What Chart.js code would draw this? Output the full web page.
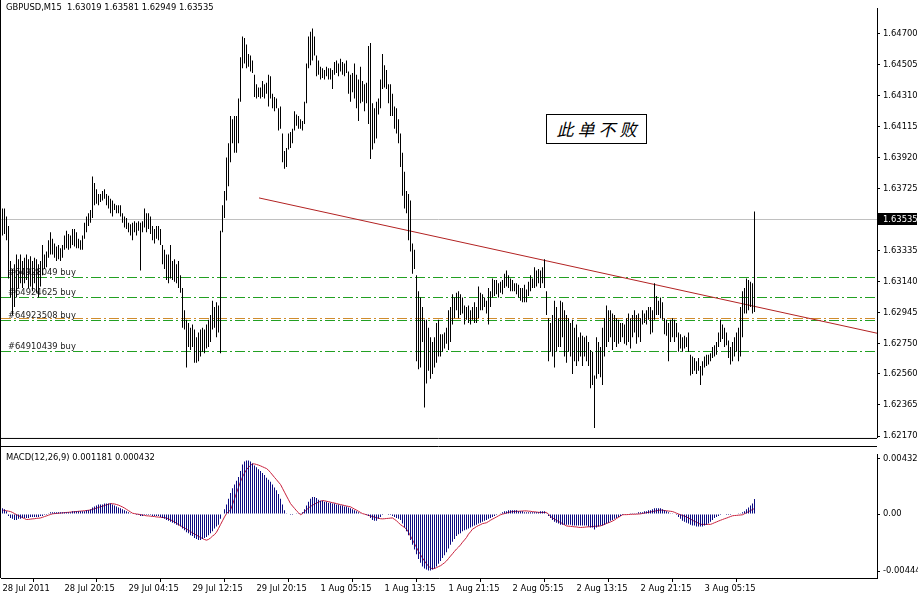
<!DOCTYPE html>
<html>
<head>
<meta charset="utf-8">
<style>
  html, body { margin: 0; padding: 0; background: #fff; width: 918px; height: 598px; overflow: hidden; }
  body { position: relative; }
  canvas { position: absolute; left: 0; }
  #price { top: 0; }
  #macd { top: 446px; }
  .note {
    position: absolute; left: 546px; top: 114px; width: 101px; height: 30px;
    border: 1px solid #000; background: #fff; box-sizing: border-box;
    font: italic 400 17px "Noto Sans CJK SC"; letter-spacing: 4px; padding-left: 4px;
    text-align: center; line-height: 28px; color: #000;
  }
</style>
</head>
<body>
<canvas id="price" width="918" height="446"></canvas>
<canvas id="macd" width="918" height="152"></canvas>
<div class="note">此单不败</div>
<script src="https://cdn.jsdelivr.net/npm/chart.js@4.4.1/dist/chart.umd.min.js"></script>
<script>
// GBPUSD M15, one value per bar (377 bars)
const highs = [
  1.6360,1.6360,1.6355,1.6349,1.6327,1.6322,1.6325,1.6331,1.6328,1.6331,
  1.6327,1.6329,1.6331,1.6328,1.6330,1.6327,1.6329,1.6328,1.6325,1.6327,
  1.6337,1.6331,1.6333,1.6340,1.6345,1.6341,1.6338,1.6336,1.6337,1.6335,
  1.6337,1.6343,1.6346,1.6344,1.6343,1.6347,1.6347,1.6345,1.6341,1.6340,
  1.6343,1.6351,1.6355,1.6357,1.6359,1.6380,1.6376,1.6372,1.6369,1.6369,
  1.6371,1.6372,1.6369,1.6368,1.6366,1.6365,1.6363,1.6362,1.6362,1.6362,
  1.6357,1.6355,1.6354,1.6351,1.6350,1.6351,1.6352,1.6351,1.6352,1.6351,
  1.6352,1.6360,1.6357,1.6357,1.6355,1.6349,1.6347,1.6349,1.6349,1.6347,
  1.6337,1.6334,1.6331,1.6331,1.6337,1.6327,1.6328,1.6325,1.6327,1.6318,
  1.6310,1.6296,1.6290,1.6288,1.6285,1.6287,1.6284,1.6279,1.6282,1.6284,
  1.6285,1.6284,1.6287,1.6290,1.6293,1.6302,1.6298,1.6301,1.6299,1.6346,
  1.6362,1.6371,1.6392,1.6401,1.6418,1.6416,1.6418,1.6418,1.6429,1.6455,
  1.6468,1.6467,1.6463,1.6457,1.6456,1.6453,1.6444,1.6438,1.6436,1.6436,
  1.6440,1.6438,1.6439,1.6444,1.6443,1.6432,1.6430,1.6429,1.6423,1.6424,
  1.6407,1.6396,1.6398,1.6407,1.6408,1.6410,1.6421,1.6419,1.6418,1.6416,
  1.6415,1.6427,1.6451,1.6468,1.6471,1.6473,1.6468,1.6456,1.6453,1.6449,
  1.6448,1.6447,1.6449,1.6448,1.6448,1.6447,1.6452,1.6453,1.6451,1.6454,
  1.6452,1.6451,1.6453,1.6446,1.6444,1.6445,1.6451,1.6444,1.6441,1.6449,
  1.6440,1.6438,1.6439,1.6462,1.6464,1.6426,1.6423,1.6427,1.6429,1.6441,
  1.6457,1.6450,1.6447,1.6438,1.6438,1.6432,1.6424,1.6423,1.6416,1.6407,
  1.6395,1.6383,1.6371,1.6369,1.6365,1.6338,1.6334,1.6318,1.6308,1.6304,
  1.6298,1.6290,1.6290,1.6285,1.6279,1.6276,1.6279,1.6288,1.6290,1.6281,
  1.6281,1.6282,1.6285,1.6296,1.6298,1.6306,1.6304,1.6307,1.6308,1.6306,
  1.6304,1.6299,1.6298,1.6299,1.6296,1.6298,1.6301,1.6298,1.6311,1.6307,
  1.6306,1.6304,1.6302,1.6310,1.6308,1.6316,1.6315,1.6315,1.6313,1.6314,
  1.6315,1.6319,1.6321,1.6318,1.6316,1.6315,1.6313,1.6313,1.6312,1.6310,
  1.6310,1.6312,1.6309,1.6314,1.6318,1.6316,1.6323,1.6321,1.6322,1.6321,
  1.6323,1.6328,1.6308,1.6291,1.6288,1.6293,1.6302,1.6298,1.6291,1.6302,
  1.6301,1.6296,1.6293,1.6291,1.6288,1.6290,1.6285,1.6287,1.6279,1.6282,
  1.6280,1.6279,1.6280,1.6276,1.6271,1.6270,1.6255,1.6279,1.6276,1.6273,
  1.6285,1.6291,1.6299,1.6296,1.6296,1.6294,1.6293,1.6291,1.6290,1.6288,
  1.6288,1.6287,1.6291,1.6294,1.6291,1.6293,1.6296,1.6293,1.6294,1.6291,
  1.6296,1.6294,1.6296,1.6298,1.6298,1.6296,1.6313,1.6305,1.6302,1.6304,
  1.6301,1.6291,1.6290,1.6288,1.6290,1.6291,1.6290,1.6288,1.6282,1.6281,
  1.6279,1.6280,1.6279,1.6282,1.6268,1.6267,1.6266,1.6264,1.6266,1.6261,
  1.6264,1.6267,1.6268,1.6268,1.6269,1.6273,1.6274,1.6276,1.6282,1.6290,
  1.6287,1.6285,1.6282,1.6277,1.6273,1.6276,1.6279,1.6282,1.6285,1.6298,
  1.6308,1.6310,1.6316,1.6315,1.6314,1.6313,1.63581
];
const lows = [
  1.6343,1.6344,1.6340,1.6316,1.6304,1.6293,1.6298,1.6304,1.6310,1.6313,
  1.6310,1.6313,1.6315,1.6310,1.6311,1.6308,1.6313,1.6307,1.6304,1.6311,
  1.6318,1.6322,1.6323,1.6329,1.6331,1.6331,1.6329,1.6327,1.6328,1.6327,
  1.6329,1.6334,1.6335,1.6334,1.6335,1.6337,1.6336,1.6335,1.6335,1.6334,
  1.6334,1.6341,1.6345,1.6349,1.6351,1.6354,1.6362,1.6363,1.6362,1.6364,
  1.6365,1.6366,1.6362,1.6360,1.6357,1.6355,1.6359,1.6357,1.6357,1.6355,
  1.6351,1.6348,1.6347,1.6345,1.6343,1.6340,1.6345,1.6343,1.6346,1.6321,
  1.6345,1.6348,1.6345,1.6347,1.6344,1.6340,1.6338,1.6341,1.6340,1.6337,
  1.6325,1.6322,1.6315,1.6313,1.6316,1.6315,1.6314,1.6313,1.6310,1.6307,
  1.6285,1.6284,1.6260,1.6273,1.6271,1.6273,1.6263,1.6263,1.6264,1.6267,
  1.6270,1.6269,1.6272,1.6273,1.6276,1.6284,1.6285,1.6279,1.6282,1.6269,
  1.6345,1.6354,1.6365,1.6374,1.6389,1.6401,1.6395,1.6395,1.6401,1.6427,
  1.6448,1.6451,1.6448,1.6449,1.6446,1.6445,1.6430,1.6429,1.6430,1.6429,
  1.6430,1.6429,1.6432,1.6424,1.6429,1.6423,1.6421,1.6423,1.6409,1.6410,
  1.6389,1.6385,1.6386,1.6397,1.6398,1.6401,1.6409,1.6412,1.6410,1.6410,
  1.6409,1.6413,1.6426,1.6448,1.6450,1.6453,1.6456,1.6443,1.6444,1.6441,
  1.6442,1.6441,1.6443,1.6441,1.6441,1.6435,1.6444,1.6445,1.6443,1.6446,
  1.6444,1.6443,1.6445,1.6432,1.6427,1.6433,1.6429,1.6423,1.6415,1.6426,
  1.6427,1.6421,1.6426,1.6413,1.6391,1.6397,1.6401,1.6404,1.6419,1.6423,
  1.6435,1.6436,1.6435,1.6426,1.6418,1.6418,1.6410,1.6407,1.6401,1.6386,
  1.6368,1.6360,1.6357,1.6340,1.6333,1.6319,1.6322,1.6264,1.6259,1.6260,
  1.6276,1.6235,1.6250,1.6258,1.6253,1.6256,1.6260,1.6263,1.6267,1.6267,
  1.6270,1.6272,1.6275,1.6271,1.6276,1.6287,1.6291,1.6296,1.6291,1.6293,
  1.6294,1.6287,1.6290,1.6288,1.6287,1.6290,1.6288,1.6288,1.6291,1.6296,
  1.6296,1.6298,1.6294,1.6287,1.6298,1.6304,1.6305,1.6306,1.6304,1.6307,
  1.6306,1.6310,1.6311,1.6310,1.6308,1.6308,1.6308,1.6306,1.6304,1.6302,
  1.6301,1.6301,1.6301,1.6305,1.6308,1.6310,1.6310,1.6311,1.6313,1.6310,
  1.6313,1.6310,1.6293,1.6264,1.6270,1.6267,1.6260,1.6270,1.6273,1.6273,
  1.6279,1.6267,1.6263,1.6270,1.6267,1.6256,1.6264,1.6261,1.6264,1.6267,
  1.6261,1.6267,1.6264,1.6261,1.6247,1.6249,1.6222,1.6253,1.6256,1.6254,
  1.6249,1.6267,1.6273,1.6276,1.6279,1.6271,1.6276,1.6273,1.6275,1.6276,
  1.6279,1.6275,1.6274,1.6276,1.6272,1.6279,1.6282,1.6275,1.6279,1.6276,
  1.6287,1.6288,1.6287,1.6290,1.6281,1.6282,1.6290,1.6293,1.6293,1.6291,
  1.6290,1.6281,1.6280,1.6264,1.6276,1.6279,1.6276,1.6279,1.6270,1.6272,
  1.6270,1.6272,1.6273,1.6270,1.6255,1.6256,1.6258,1.6256,1.6258,1.6249,
  1.6255,1.6260,1.6261,1.6262,1.6264,1.6266,1.6267,1.6268,1.6273,1.6276,
  1.6278,1.6273,1.6274,1.6266,1.6262,1.6264,1.6267,1.6270,1.6264,1.6267,
  1.6279,1.6294,1.6294,1.6296,1.6298,1.6294,1.62949
];
// MACD(12,26,9): main line (histogram) and signal line
const macdMain = [
  0.00045,0.00037,0.00022,-0.00015,-0.0003,-0.00037,-0.00045,-0.00045,-0.00037,-0.00037,
  -0.0003,-0.0003,-0.0003,-0.0003,-0.00022,-0.00022,-0.00022,-0.00022,-0.00022,-0.00015,
  -0.00015,-0.00007,-0.00007,0.00007,0.00015,0.00015,0.00015,0.00015,0.00015,0.00015,
  0.00015,0.00015,0.00015,0.00015,0.00015,0.00022,0.00022,0.00022,0.00022,0.00022,
  0.00022,0.00022,0.0003,0.0003,0.00037,0.00052,0.0006,0.00067,0.00074,0.00074,
  0.00074,0.00082,0.00082,0.00082,0.00082,0.00074,0.00067,0.0006,0.00052,0.00045,
  0.00037,0.0003,0.00022,0.00015,0.00007,0,0,-0.00007,-0.00007,-0.00015,
  -0.00015,-0.00007,-0.00007,-0.00007,-0.00007,-0.00015,-0.00015,-0.00015,-0.00015,-0.00022,
  -0.0003,-0.00037,-0.00045,-0.00052,-0.0006,-0.00067,-0.00074,-0.00082,-0.00089,-0.00097,
  -0.00112,-0.00126,-0.00141,-0.00149,-0.00164,-0.00171,-0.00186,-0.00193,-0.00201,-0.00201,
  -0.00193,-0.00186,-0.00179,-0.00164,-0.00149,-0.00134,-0.00112,-0.00097,-0.00082,-0.00037,
  0,0.00037,0.00074,0.00119,0.00164,0.00201,0.00231,0.0026,0.0029,0.00335,
  0.00387,0.00409,0.00417,0.00417,0.00409,0.00394,0.00379,0.00365,0.0035,0.00335,
  0.0032,0.00305,0.00283,0.00268,0.00253,0.00231,0.00208,0.00186,0.00156,0.00119,
  0.00074,0.0003,0.00007,0,-0.00007,-0.00007,0,0.00007,0.00007,0.00007,
  0.00015,0.00037,0.00067,0.00097,0.00119,0.00134,0.00134,0.00126,0.00112,0.00104,
  0.00104,0.00097,0.00097,0.00089,0.00089,0.00082,0.00082,0.00074,0.00074,0.00067,
  0.00067,0.0006,0.0006,0.00052,0.00045,0.00037,0.0003,0.00022,0.00015,0.00007,
  0,0,-0.00007,-0.00015,-0.0003,-0.00045,-0.00052,-0.00052,-0.00037,-0.00022,
  -0.00007,0,0,-0.00007,-0.00007,-0.00015,-0.00022,-0.0003,-0.00037,-0.00045,
  -0.00074,-0.00104,-0.00134,-0.00164,-0.00201,-0.00238,-0.00275,-0.00312,-0.0035,-0.00379,
  -0.00409,-0.00424,-0.00432,-0.00439,-0.00439,-0.00432,-0.00424,-0.00409,-0.00387,-0.00365,
  -0.00342,-0.0032,-0.00298,-0.00268,-0.00238,-0.00216,-0.00193,-0.00171,-0.00156,-0.00149,
  -0.00134,-0.00126,-0.00119,-0.00112,-0.00104,-0.00097,-0.00089,-0.00082,-0.00074,-0.00067,
  -0.0006,-0.00052,-0.00045,-0.00037,-0.0003,-0.00022,-0.00015,-0.00007,0,0.00007,
  0.00015,0.00022,0.00022,0.0003,0.0003,0.0003,0.0003,0.0003,0.00022,0.00022,
  0.00022,0.00015,0.00015,0.00015,0.00015,0.00015,0.00015,0.00015,0.00015,0.00022,
  0.00022,0.00022,0.00007,-0.00015,-0.0003,-0.00045,-0.0006,-0.00067,-0.00074,-0.00082,
  -0.00082,-0.00082,-0.00082,-0.00082,-0.00082,-0.00089,-0.00089,-0.00089,-0.00089,-0.00089,
  -0.00089,-0.00089,-0.00089,-0.00097,-0.00104,-0.00104,-0.00119,-0.00104,-0.00097,-0.00089,
  -0.00089,-0.00082,-0.00074,-0.00067,-0.00052,-0.00045,-0.00037,-0.0003,-0.00022,-0.00015,
  -0.00007,0,0,0,0.00007,0.00007,0.00007,0.00007,0.00015,0.00015,
  0.00015,0.00022,0.00022,0.0003,0.0003,0.00037,0.00045,0.00045,0.00045,0.00045,
  0.00037,0.0003,0.00022,0.00015,0.00007,0.00007,0,-0.00007,-0.00022,-0.00037,
  -0.00052,-0.0006,-0.00067,-0.00074,-0.00082,-0.00089,-0.00089,-0.00097,-0.00097,-0.00097,
  -0.00097,-0.00089,-0.00082,-0.00074,-0.0006,-0.00045,-0.0003,-0.00022,-0.00015,-0.00007,
  0,0,-0.00007,-0.00007,-0.00007,0,0,0,0.00007,0.00007,
  0.00015,0.00022,0.00037,0.00052,0.00067,0.00082,0.001181
];
const macdSignal = [
  0.00032,0.00029,0.00026,0.00023,0.0002,0.00013,0.00004,-0.00004,-0.00012,-0.00019,
  -0.00028,-0.00035,-0.00042,-0.00041,-0.00039,-0.00037,-0.00036,-0.00033,-0.00032,-0.0003,
  -0.00025,-0.00019,-0.00014,-0.00008,-0.00003,0.00002,0.00004,0.00005,0.00007,0.00008,
  0.0001,0.00011,0.00013,0.00014,0.00016,0.00017,0.00019,0.0002,0.00022,0.00023,
  0.00025,0.00026,0.00028,0.0003,0.00032,0.00037,0.00042,0.00047,0.00052,0.00057,
  0.00062,0.00067,0.00072,0.00077,0.00082,0.00081,0.00079,0.00075,0.0007,0.00063,
  0.00056,0.00047,0.00037,0.00027,0.00017,0.00007,0.00004,0.00001,-0.00001,-0.00004,
  -0.00007,-0.0001,-0.00013,-0.00014,-0.00016,-0.00018,-0.00019,-0.00022,-0.00023,-0.00025,
  -0.00026,-0.00028,-0.0003,-0.00037,-0.00045,-0.00052,-0.0006,-0.00071,-0.00082,-0.00089,
  -0.001,-0.00108,-0.00117,-0.00126,-0.00136,-0.00146,-0.00155,-0.00164,-0.00173,-0.00182,
  -0.0019,-0.00198,-0.00203,-0.00197,-0.00186,-0.00171,-0.0016,-0.00141,-0.00112,-0.00082,
  -0.00052,-0.00022,0.00004,0.00019,0.00032,0.00074,0.00119,0.00164,0.00208,0.00253,
  0.0029,0.0032,0.00346,0.00365,0.00379,0.00392,0.00391,0.00387,0.00382,0.00376,
  0.00369,0.00362,0.00355,0.00342,0.00324,0.00305,0.00286,0.00268,0.00249,0.00231,
  0.00201,0.00171,0.00141,0.00112,0.00082,0.00063,0.00045,0.00026,0.00011,-0.00005,
  0.00004,0.00019,0.00033,0.00048,0.0006,0.00069,0.00078,0.00086,0.00093,0.001,
  0.00106,0.00104,0.001,0.00097,0.00093,0.00089,0.00086,0.00082,0.00078,0.00074,
  0.00071,0.00067,0.00063,0.0006,0.00057,0.00048,0.00039,0.00031,0.00022,0.00013,
  0.00004,0,-0.00005,-0.0001,-0.00014,-0.00019,-0.00023,-0.00028,-0.00032,-0.00036,
  -0.00037,-0.00036,-0.00034,-0.00033,-0.00031,-0.0003,-0.00041,-0.00052,-0.00067,-0.00082,
  -0.00093,-0.00104,-0.00117,-0.00141,-0.00171,-0.00201,-0.00231,-0.0026,-0.0029,-0.00315,
  -0.00342,-0.00365,-0.00387,-0.00405,-0.0042,-0.00426,-0.00424,-0.00417,-0.00409,-0.00402,
  -0.00391,-0.00379,-0.00365,-0.00346,-0.00327,-0.00309,-0.0029,-0.00272,-0.00257,-0.0024,
  -0.00219,-0.00201,-0.00182,-0.00156,-0.00138,-0.00117,-0.00108,-0.00097,-0.00089,-0.00082,
  -0.00074,-0.00071,-0.00067,-0.00058,-0.00048,-0.00039,-0.00031,-0.00022,-0.00013,-0.00005,
  0,0.00004,0.00009,0.00013,0.00017,0.0002,0.00021,0.00022,0.00022,0.00023,
  0.00024,0.00025,0.00025,0.00023,0.00022,0.00019,0.00018,0.00016,0.00014,0.00013,
  0.00013,0.00013,0.00013,-0.00001,-0.00016,-0.0003,-0.00039,-0.00048,-0.00057,-0.00065,
  -0.00074,-0.00083,-0.00092,-0.00094,-0.00095,-0.00097,-0.00099,-0.001,-0.00103,-0.00104,
  -0.00103,-0.00102,-0.001,-0.00099,-0.00098,-0.00097,-0.00095,-0.00094,-0.00093,-0.00092,
  -0.00086,-0.0008,-0.00073,-0.00067,-0.00061,-0.00054,-0.00045,-0.00034,-0.00025,-0.00015,
  -0.00005,-0.00004,-0.00004,-0.00003,-0.00002,-0.00001,-0.00001,0,0.00001,0.00002,
  0.00005,0.00008,0.00011,0.00014,0.00017,0.0002,0.00023,0.00026,0.00029,0.00032,
  0.0003,0.00028,0.00026,0.00024,0.00022,0.0002,0.00014,0.00007,0.00001,-0.00005,
  -0.0001,-0.00016,-0.00022,-0.00031,-0.00039,-0.00048,-0.00056,-0.00063,-0.00071,-0.0008,
  -0.0008,-0.0008,-0.0008,-0.0008,-0.0008,-0.00074,-0.00067,-0.00061,-0.00054,-0.00048,
  -0.00042,-0.00036,-0.00031,-0.00025,-0.00019,-0.00013,-0.00011,-0.0001,-0.00008,-0.00007,
  -0.00005,0.00003,0.00011,0.00019,0.00028,0.00036,0.000432
];

const lastOHLC = [1.63019, 1.63581, 1.62949, 1.63535];
const priceTicks = [1.64700, 1.64505, 1.64310, 1.64115, 1.63920, 1.63725, 1.63335, 1.63140, 1.62945, 1.62750, 1.62560, 1.62365, 1.62170];
const macdTicks = [0.004327, 0, -0.00444];
const macdTickLabels = ['0.004327', '0.00', '-0.00444'];
const timeTickBars = [0, 31, 63, 95, 127, 159, 191, 223, 255, 287, 319, 351];
const timeTickLabels = ['28 Jul 2011', '28 Jul 20:15', '29 Jul 04:15', '29 Jul 12:15', '29 Jul 20:15', '1 Aug 05:15',
  '1 Aug 13:15', '1 Aug 21:15', '2 Aug 05:15', '2 Aug 13:15', '2 Aug 21:15', '3 Aug 05:15'];
const orderLevels = [1.63168, 1.63046, 1.62897, 1.62705];
const orderNames = ['#64928049 buy', '#64924625 buy', '#64923508 buy', '#64910439 buy'];
const orangeLevel = 1.62912;
const trendLine = [{ x: 128.25, y: 1.63666 }, { x: 437.25, y: 1.62816 }];

const FONT = 'DejaVu Sans';
const FSIZE = 8.4;
const X_MIN = -0.75, X_MAX = 437.25;
const bid = lastOHLC[3];

const priceOverlay = {
  id: 'priceOverlay',
  beforeDatasetsDraw(chart) {
    const { ctx, chartArea: a, scales: { y } } = chart;
    ctx.save();
    ctx.lineWidth = 1;
    ctx.setLineDash([10, 3, 2, 3]);
    const drawLevel = (v, color) => {
      const py = Math.round(y.getPixelForValue(v)) + 0.5;
      ctx.strokeStyle = color;
      ctx.beginPath(); ctx.moveTo(a.left, py); ctx.lineTo(a.right, py); ctx.stroke();
    };
    drawLevel(orangeLevel, '#d08c2c');
    orderLevels.forEach(v => drawLevel(v, '#22a022'));
    ctx.setLineDash([]);
    // bid line
    const by = Math.round(y.getPixelForValue(bid)) + 0.5;
    ctx.strokeStyle = '#c0c0c0';
    ctx.beginPath(); ctx.moveTo(0, by); ctx.lineTo(a.right, by); ctx.stroke();
    ctx.fillStyle = '#222';
    ctx.font = FSIZE + 'px "' + FONT + '"';
    ctx.textBaseline = 'alphabetic';
    orderLevels.forEach((v, k) => {
      ctx.fillText(orderNames[k], 8, Math.round(y.getPixelForValue(v)) - 2);
    });
    ctx.restore();
  },
  afterDraw(chart) {
    const { ctx, chartArea: a, scales: { y } } = chart;
    ctx.save();
    ctx.strokeStyle = '#000';
    ctx.lineWidth = 1;
    ctx.beginPath();
    ctx.moveTo(0.5, 0); ctx.lineTo(0.5, 446);
    ctx.moveTo(0, a.bottom + 0.5); ctx.lineTo(a.right, a.bottom + 0.5);
    ctx.stroke();
    const by = Math.round(y.getPixelForValue(bid));
    ctx.fillStyle = '#000';
    ctx.fillRect(a.right + 1, by - 6, 39, 12);
    ctx.fillStyle = '#fff';
    ctx.font = FSIZE + 'px "' + FONT + '"';
    ctx.textBaseline = 'middle';
    ctx.fillText(bid.toFixed(5), a.right + 6, by + 0.5);
    ctx.fillStyle = '#000';
    ctx.fillText('GBPUSD,M15  ' + lastOHLC.map(v => v.toFixed(5)).join(' '), 6, 8);
    ctx.restore();
  }
};

new Chart(document.getElementById('price'), {
  type: 'bar',
  data: {
    datasets: [
      {
        type: 'bar',
        data: highs.map((h, i) => ({ x: i, y: [lows[i], h] })),
        backgroundColor: '#000',
        barThickness: 1,
        borderWidth: 0,
        inflateAmount: 0
      },
      {
        type: 'line',
        data: trendLine,
        borderColor: '#b22222',
        borderWidth: 1,
        pointRadius: 0
      }
    ]
  },
  options: {
    responsive: false,
    animation: false,
    devicePixelRatio: 1,
    layout: { padding: { left: 1, top: 1, right: 0, bottom: 2 } },
    plugins: { legend: { display: false }, tooltip: { enabled: false } },
    scales: {
      x: { type: 'linear', min: X_MIN, max: X_MAX, offset: false, display: false },
      y: {
        position: 'right',
        min: 1.621579,
        max: 1.648589,
        afterFit: s => { s.width = 41 },
        afterBuildTicks: s => { s.ticks = priceTicks.map(v => ({ value: v })) },
        ticks: { callback: v => v.toFixed(5), color: '#000', padding: 3, font: { family: FONT, size: FSIZE } },
        grid: { drawOnChartArea: false, tickLength: 3, color: '#000' },
        border: { color: '#000' }
      }
    }
  },
  plugins: [priceOverlay]
});

const macdOverlay = {
  id: 'macdOverlay',
  afterDraw(chart) {
    const { ctx, chartArea: a } = chart;
    ctx.save();
    ctx.strokeStyle = '#000';
    ctx.lineWidth = 1;
    ctx.beginPath();
    ctx.moveTo(0, 0.5); ctx.lineTo(a.right, 0.5);
    ctx.moveTo(0.5, 0); ctx.lineTo(0.5, a.bottom);
    ctx.stroke();
    ctx.fillStyle = '#000';
    ctx.font = FSIZE + 'px "' + FONT + '"';
    ctx.textBaseline = 'middle';
    const last = macdMain.length - 1;
    ctx.fillText('MACD(12,26,9) ' + macdMain[last].toFixed(6) + ' ' + macdSignal[last].toFixed(6), 6, 12);
    ctx.restore();
  }
};

new Chart(document.getElementById('macd'), {
  type: 'bar',
  data: {
    datasets: [
      {
        type: 'bar',
        data: macdMain.map((v, i) => ({ x: i, y: v })),
        backgroundColor: '#0a0a80',
        barThickness: 1,
        borderWidth: 0,
        inflateAmount: 0
      },
      {
        type: 'line',
        data: macdSignal.map((v, i) => ({ x: i, y: v })),
        borderColor: '#c8203c',
        borderWidth: 1,
        pointRadius: 0
      }
    ]
  },
  options: {
    responsive: false,
    animation: false,
    devicePixelRatio: 1,
    layout: { padding: { left: 1, top: 2, right: 0, bottom: 0 } },
    plugins: { legend: { display: false }, tooltip: { enabled: false } },
    scales: {
      x: {
        type: 'linear', min: X_MIN, max: X_MAX, offset: false,
        afterFit: s => { s.height = 20 },
        afterBuildTicks: s => { s.ticks = timeTickBars.map(v => ({ value: v })) },
        ticks: {
          autoSkip: false, maxRotation: 0, align: 'start', padding: 2, color: '#000',
          font: { family: FONT, size: FSIZE },
          callback: (v, i) => timeTickLabels[i]
        },
        grid: { drawOnChartArea: false, tickLength: 4, color: '#000' },
        border: { color: '#000' }
      },
      y: {
        position: 'right',
        min: -0.004978,
        max: 0.004681,
        afterFit: s => { s.width = 41 },
        afterBuildTicks: s => { s.ticks = macdTicks.map(v => ({ value: v })) },
        ticks: { callback: (v, i) => macdTickLabels[i], color: '#000', padding: 3, font: { family: FONT, size: FSIZE } },
        grid: { drawOnChartArea: false, tickLength: 3, color: '#000' },
        border: { color: '#000' }
      }
    }
  },
  plugins: [macdOverlay]
});
</script>
</body>
</html>
